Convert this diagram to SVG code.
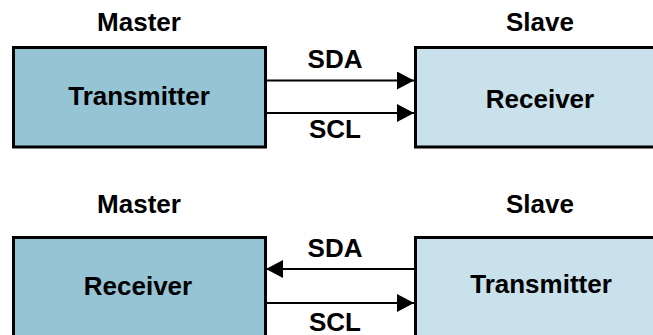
<svg xmlns="http://www.w3.org/2000/svg" width="653" height="335" viewBox="0 0 653 335">
<style>
.box{stroke:#000;stroke-width:3}
.m{fill:#95C4D4}
.s{fill:#C8E1EA}
.t{font-family:"Liberation Sans",Arial,sans-serif;font-weight:bold;font-size:26px;text-anchor:middle;fill:#000}
.w{stroke:#000;stroke-width:2.2;fill:none}
</style>
<defs>
<marker id="ah" markerUnits="userSpaceOnUse" markerWidth="18" markerHeight="20" refX="17" refY="9" orient="auto">
<path d="M0,0 L17,9 L0,18 Z" fill="#000"/>
</marker>
</defs>
<g id="master1">
<rect class="box m" x="13.5" y="47.5" width="252" height="99.5"/>
<text class="t" x="139" y="31">Master</text>
<text class="t" x="139" y="105">Transmitter</text>
</g>
<g id="slave1">
<rect class="box s" x="415.5" y="47.5" width="300" height="99.5"/>
<text class="t" x="540" y="31">Slave</text>
<text class="t" x="540" y="108">Receiver</text>
</g>
<g id="master2">
<rect class="box m" x="13.5" y="237.5" width="252" height="120"/>
<text class="t" x="139" y="213">Master</text>
<text class="t" x="138" y="295">Receiver</text>
</g>
<g id="slave2">
<rect class="box s" x="415.5" y="237.5" width="300" height="120"/>
<text class="t" x="540" y="213">Slave</text>
<text class="t" x="541" y="293">Transmitter</text>
</g>
<g id="connectors">
<line class="w" x1="265" y1="80.5" x2="414" y2="80.5" marker-end="url(#ah)"/>
<line class="w" x1="265" y1="113" x2="414" y2="113" marker-end="url(#ah)"/>
<line class="w" x1="415" y1="269" x2="266" y2="269" marker-end="url(#ah)"/>
<line class="w" x1="265" y1="303" x2="414" y2="303" marker-end="url(#ah)"/>
<text class="t" x="335" y="68">SDA</text>
<text class="t" x="335" y="138">SCL</text>
<text class="t" x="335" y="257">SDA</text>
<text class="t" x="335" y="331">SCL</text>
</g>
</svg>
